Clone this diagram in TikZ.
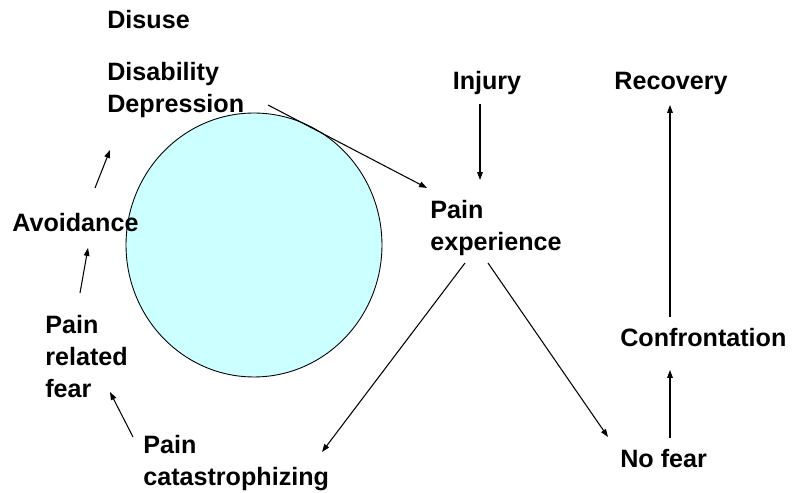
\documentclass[tikz,border=0pt]{standalone}
\usepackage{fontspec}
\setmainfont{Liberation Sans}
\usetikzlibrary{arrows.meta}
\definecolor{loopcyan}{RGB}{204,255,255}

\begin{document}
\begin{tikzpicture}[x=0.02cm, y=-0.02cm]
\tikzset{
	t/.style={inner sep=0pt, align=left, font=\fontsize{14.3}{18.1}\selectfont\bfseries},
	arr/.style={line width=0.6pt, -{Triangle[length=4.5pt,width=3.2pt]}}
}
\useasboundingbox (0,0) rectangle (796,493);

% vicious circle
\draw[fill=loopcyan, line width=0.5pt] (254,245) ellipse (2.56cm and 2.64cm);

% left side
\node[t, anchor=base west]  (disuse) at(107,29)  {Disuse};
\node[t, anchor=north west] (disab)  at(107,62)  {Disability\\Depression};
\node[t, anchor=base west]  (avoid)  at(12,232)  {Avoidance};
\node[t, anchor=north west] (fear)   at(45,315)  {Pain\\related\\fear};
\node[t, anchor=north west] (catas)  at(143,435) {Pain\\catastrophizing};

% middle
\node[t, anchor=base]       (injury)  at(487,90)  {Injury};
\node[t, anchor=north west] (painexp) at(430,200) {Pain\\experience};

% right side
\node[t, anchor=base]       (recov)  at(671,90)  {Recovery};
\node[t, anchor=base west]  (confr)  at(620,347) {Confrontation};
\node[t, anchor=base west]  (nofear) at(620,468) {No fear};

% arrows
\draw[arr] ([shift={(161,43)}]disab.north west) -- ([shift={(-3,-12)}]painexp.north west);
\draw[arr] ([shift={(-7,14)}]injury.base) -- ([shift={(50,-20)}]painexp.north west);
\draw[arr] ([shift={(35,63)}]painexp.north west) -- ([shift={(179,17)}]catas.north west);
\draw[arr] ([shift={(58,63)}]painexp.north west) -- ([shift={(-12,-31)}]nofear.base west);
\draw[arr] ([shift={(50,-30)}]nofear.base west) -- ([shift={(50,23)}]confr.base west);
\draw[arr] ([shift={(50,-30)}]confr.base west) -- ([shift={(-1,15)}]recov.base);
\draw[arr] ([shift={(-10,2)}]catas.north west) -- ([shift={(65,77)}]fear.north west);
\draw[arr] ([shift={(35,-22)}]fear.north west) -- ([shift={(76,16)}]avoid.base west);
\draw[arr] ([shift={(83,-44)}]avoid.base west) -- ([shift={(3,88)}]disab.north west);

\end{tikzpicture}
\end{document}
